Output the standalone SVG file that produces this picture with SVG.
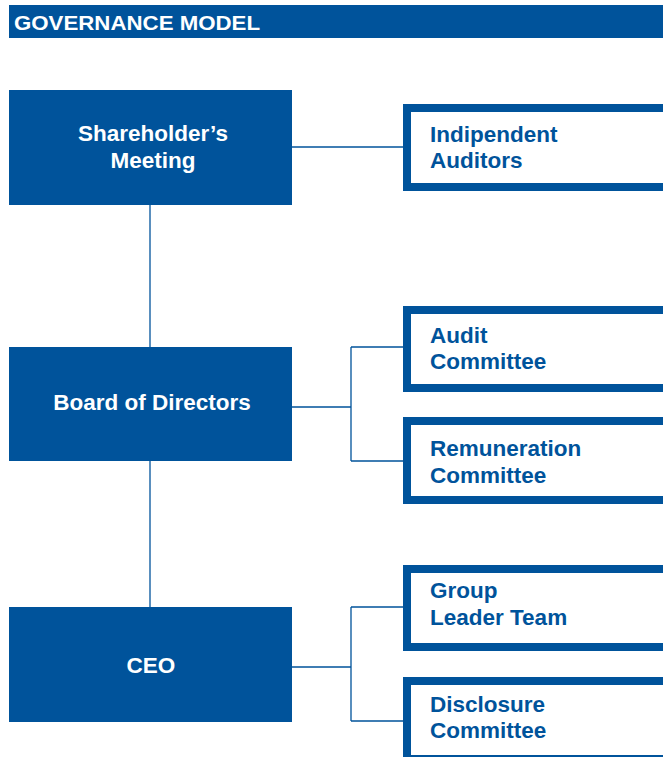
<svg xmlns="http://www.w3.org/2000/svg" width="663" height="757" viewBox="0 0 663 757">
  <style>
    .solid { fill: #00539b; }
    .outline { fill: #ffffff; stroke: #00539b; stroke-width: 8; }
    .wire { fill: none; stroke: #00539b; stroke-width: 1.3; }
    .lbl { font-family: "Liberation Sans", Arial, sans-serif; font-weight: bold; font-size: 22.5px; }
    .lbl-in { fill: #ffffff; text-anchor: middle; }
    .lbl-out { fill: #00539b; }
    .title { font-family: "Liberation Sans", Arial, sans-serif; font-weight: bold; font-size: 21px; fill: #ffffff; }
  </style>
  <rect width="663" height="757" fill="#ffffff"/>

  <!-- title bar -->
  <g id="title">
    <rect class="solid" x="9" y="5" width="660" height="33"/>
    <text class="title" x="14" y="29.5" textLength="246" lengthAdjust="spacingAndGlyphs">GOVERNANCE MODEL</text>
  </g>

  <!-- connectors -->
  <g id="connectors">
    <path class="wire" d="M292 147 H407"/>
    <path class="wire" d="M150 205 V347"/>
    <path class="wire" d="M150 461 V607"/>
    <path class="wire" d="M292 407 H351 M351 347 V461 M351 347 H407 M351 461 H407"/>
    <path class="wire" d="M292 667 H351 M351 607 V721 M351 607 H407 M351 721 H407"/>
  </g>

  <!-- main bodies -->
  <g id="shareholders-meeting">
    <rect class="solid" x="9" y="90" width="283" height="115"/>
    <text class="lbl lbl-in" x="153" y="141">Shareholder’s</text>
    <text class="lbl lbl-in" x="153" y="168">Meeting</text>
  </g>
  <g id="board-of-directors">
    <rect class="solid" x="9" y="347" width="283" height="114"/>
    <text class="lbl lbl-in" x="152" y="410">Board of Directors</text>
  </g>
  <g id="ceo">
    <rect class="solid" x="9" y="607" width="283" height="115"/>
    <text class="lbl lbl-in" x="151" y="672.5">CEO</text>
  </g>

  <!-- supporting bodies -->
  <g id="independent-auditors">
    <rect class="outline" x="407" y="108" width="270" height="79"/>
    <text class="lbl lbl-out" x="430" y="142">Indipendent</text>
    <text class="lbl lbl-out" x="430" y="168">Auditors</text>
  </g>
  <g id="audit-committee">
    <rect class="outline" x="407" y="310" width="270" height="78"/>
    <text class="lbl lbl-out" x="430" y="343">Audit</text>
    <text class="lbl lbl-out" x="430" y="369">Committee</text>
  </g>
  <g id="remuneration-committee">
    <rect class="outline" x="407" y="421" width="270" height="79"/>
    <text class="lbl lbl-out" x="430" y="456">Remuneration</text>
    <text class="lbl lbl-out" x="430" y="483">Committee</text>
  </g>
  <g id="group-leader-team">
    <rect class="outline" x="407" y="569" width="270" height="78"/>
    <text class="lbl lbl-out" x="430" y="598">Group</text>
    <text class="lbl lbl-out" x="430" y="625">Leader Team</text>
  </g>
  <g id="disclosure-committee">
    <rect class="outline" x="407" y="681" width="270" height="78"/>
    <text class="lbl lbl-out" x="430" y="712">Disclosure</text>
    <text class="lbl lbl-out" x="430" y="738">Committee</text>
  </g>
</svg>
